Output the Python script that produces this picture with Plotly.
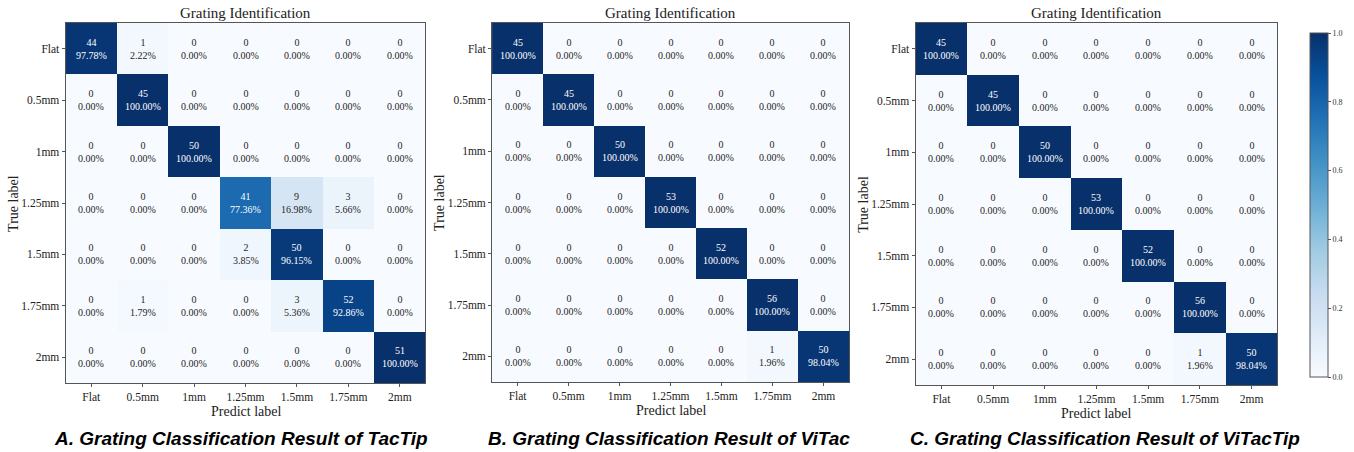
import numpy as np
import plotly.graph_objects as go
import plotly.express as px

labels = ["Flat", "0.5mm", "1mm", "1.25mm", "1.5mm", "1.75mm", "2mm"]

counts_tactip = [
    [44, 1, 0, 0, 0, 0, 0],
    [0, 45, 0, 0, 0, 0, 0],
    [0, 0, 50, 0, 0, 0, 0],
    [0, 0, 0, 41, 9, 3, 0],
    [0, 0, 0, 2, 50, 0, 0],
    [0, 1, 0, 0, 3, 52, 0],
    [0, 0, 0, 0, 0, 0, 51],
]
counts_vitac = [
    [45, 0, 0, 0, 0, 0, 0],
    [0, 45, 0, 0, 0, 0, 0],
    [0, 0, 50, 0, 0, 0, 0],
    [0, 0, 0, 53, 0, 0, 0],
    [0, 0, 0, 0, 52, 0, 0],
    [0, 0, 0, 0, 0, 56, 0],
    [0, 0, 0, 0, 0, 1, 50],
]
counts_vitactip = [
    [45, 0, 0, 0, 0, 0, 0],
    [0, 45, 0, 0, 0, 0, 0],
    [0, 0, 50, 0, 0, 0, 0],
    [0, 0, 0, 53, 0, 0, 0],
    [0, 0, 0, 0, 52, 0, 0],
    [0, 0, 0, 0, 0, 56, 0],
    [0, 0, 0, 0, 0, 1, 50],
]
panel_title = "Grating Identification"
x_title = "Predict label"
y_title = "True label"
captions = [
    "A. Grating Classification Result of TacTip",
    "B. Grating Classification Result of ViTac",
    "C. Grating Classification Result of ViTacTip",
]

W, H = 1354, 452
# panel pixel boxes in screen pixels (left, right, top, bottom)
boxes = [(66, 428, 23, 383), (495, 854, 23, 382), (921, 1285, 23, 385)]
cap_x = [242, 673, 1112]

def px_x(v):
    return v / W

def px_y(v):
    return 1 - v / H

SERIF = "Liberation Serif, Times New Roman, serif"
scale = px.colors.sequential.Blues
axis_col = "#555555"
txt_col = "#222222"

fig = go.Figure()
annotations = []
for i, (cm, box) in enumerate(zip([counts_tactip, counts_vitac, counts_vitactip], boxes)):
    cm = np.array(cm, dtype=float)
    norm = cm / cm.sum(axis=1, keepdims=True)
    xa = "x" if i == 0 else f"x{i+1}"
    ya = "y" if i == 0 else f"y{i+1}"
    fig.add_trace(go.Heatmap(
        z=norm, x=labels, y=labels, colorscale=scale, zmin=0, zmax=1,
        xaxis=xa, yaxis=ya, showscale=(i == 2), hoverinfo="skip",
        colorbar=dict(
            x=px_x(1308), xanchor="left", y=px_y(23), yanchor="top",
            lenmode="pixels", len=364, thicknessmode="pixels", thickness=18,
            outlinecolor=axis_col, outlinewidth=1,
            tickvals=[0, 0.2, 0.4, 0.6, 0.8, 1.0], ticktext=["0.0", "0.2", "0.4", "0.6", "0.8", "1.0"],
            ticks="outside", ticklen=3, tickcolor=axis_col,
            tickfont=dict(family=SERIF, size=8, color="#333333"),
        ),
    ))
    for r in range(len(labels)):
        for c in range(len(labels)):
            v = norm[r, c]
            annotations.append(dict(
                x=labels[c], y=labels[r], xref=xa, yref=ya,
                text=f"{int(cm[r, c])}<br>{v*100:.2f}%", showarrow=False,
                font=dict(family=SERIF, size=10, color="white" if v > 0.5 else "#262626"),
            ))
    l, rgt, t, b = box
    axkw = dict(showline=True, mirror=True, linecolor=axis_col, linewidth=1,
                ticks="outside", ticklen=3, tickcolor=axis_col, showgrid=False,
                zeroline=False, tickfont=dict(family=SERIF, size=11.5, color=txt_col))
    fig.layout[("xaxis" if i == 0 else f"xaxis{i+1}")] = dict(
        domain=[px_x(l), px_x(rgt)], anchor=ya, **axkw)
    fig.layout[("yaxis" if i == 0 else f"yaxis{i+1}")] = dict(
        domain=[px_y(b), px_y(t)], anchor=xa, autorange="reversed", **axkw)
    annotations.append(dict(
        x=px_x((l + rgt) / 2), y=px_y(13), xref="paper", yref="paper",
        text=panel_title, showarrow=False, xanchor="center", yanchor="middle",
        font=dict(family=SERIF, size=15, color=txt_col),
    ))
    annotations.append(dict(
        x=px_x((l + rgt) / 2), y=px_y(b + 28), xref="paper", yref="paper",
        text=x_title, showarrow=False, xanchor="center", yanchor="middle",
        font=dict(family=SERIF, size=14, color=txt_col),
    ))
    annotations.append(dict(
        x=px_x(l - 53), y=px_y((t + b) / 2), xref="paper", yref="paper",
        text=y_title, showarrow=False, xanchor="center", yanchor="middle", textangle=-90,
        font=dict(family=SERIF, size=14, color=txt_col),
    ))
    annotations.append(dict(
        x=px_x(cap_x[i]), y=px_y(438), xref="paper", yref="paper",
        text=f"<b><i>{captions[i]}</i></b>", showarrow=False, xanchor="center", yanchor="middle",
        font=dict(family="Liberation Sans, Arial, sans-serif", size=19, color="black"),
    ))

fig.update_layout(
    width=W, height=H, margin=dict(l=0, r=0, t=0, b=0),
    paper_bgcolor="white", plot_bgcolor="white",
    annotations=annotations, showlegend=False,
)
fig.write_html("out.html", config={"displayModeBar": False},
               post_script="document.body.style.margin='0px';document.body.style.overflow='hidden';")
